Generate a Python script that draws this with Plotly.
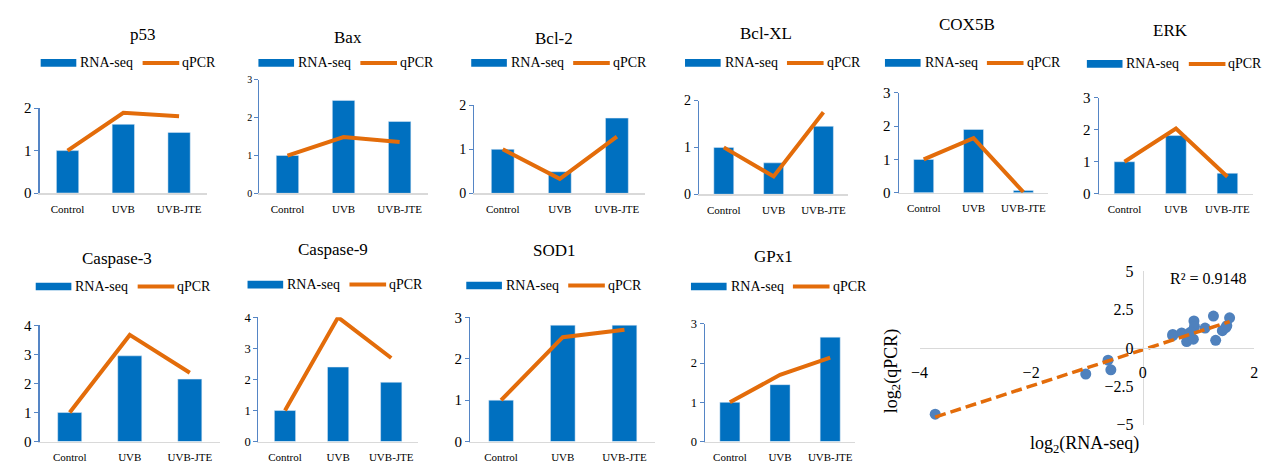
import numpy as np
import plotly.graph_objects as go

W, H = 1272, 467

# ---------------- data ----------------
categories = ["Control", "UVB", "UVB-JTE"]
genes = ["p53", "Bax", "Bcl-2", "Bcl-XL", "COX5B", "ERK",
         "Caspase-3", "Caspase-9", "SOD1", "GPx1"]

p53_rna = [1.00, 1.62, 1.43]
p53_qpcr = [1.00, 1.89, 1.81]
bax_rna = [1.00, 2.46, 1.90]
bax_qpcr = [1.00, 1.49, 1.36]
bcl2_rna = [1.00, 0.49, 1.71]
bcl2_qpcr = [1.00, 0.33, 1.29]
bclxl_rna = [1.00, 0.67, 1.45]
bclxl_qpcr = [1.00, 0.38, 1.75]
cox5b_rna = [1.00, 1.90, 0.07]
cox5b_qpcr = [1.00, 1.64, 0.02]
erk_rna = [1.00, 1.82, 0.64]
erk_qpcr = [1.00, 2.04, 0.53]
casp3_rna = [1.00, 2.95, 2.15]
casp3_qpcr = [1.00, 3.67, 2.37]
casp9_rna = [1.00, 2.40, 1.91]
casp9_qpcr = [1.00, 4.00, 2.69]
sod1_rna = [1.00, 2.81, 2.81]
sod1_qpcr = [1.00, 2.52, 2.70]
gpx1_rna = [1.00, 1.45, 2.66]
gpx1_qpcr = [1.00, 1.70, 2.14]

y_max = [2, 3, 2, 2, 3, 3, 4, 4, 3, 3]

log2_rna = [-3.72, -1.02, -0.62, -0.57, 0.54, 0.70, 0.79, 0.85, 0.91, 0.92,
            0.93, 1.12, 1.27, 1.31, 1.43, 1.51, 1.56, 0.54, 0.86, 1.49]
log2_qpcr = [-4.32, -1.70, -0.80, -1.43, 0.88, 0.98, 0.42, 0.99, 0.57, 1.76,
             1.40, 1.30, 2.08, 0.50, 1.13, 1.45, 1.97, 0.80, 1.03, 1.33]
r2_label = "R² = 0.9148"

rna_list = [p53_rna, bax_rna, bcl2_rna, bclxl_rna, cox5b_rna, erk_rna,
            casp3_rna, casp9_rna, sod1_rna, gpx1_rna]
qpcr_list = [p53_qpcr, bax_qpcr, bcl2_qpcr, bclxl_qpcr, cox5b_qpcr, erk_qpcr,
             casp3_qpcr, casp9_qpcr, sod1_qpcr, gpx1_qpcr]

# ---------------- layout geometry (pixels) ----------------
# x0, x1 (axis span), y_top, y_bot (value range span), title (x,y), legend (x,y), ytick font
geom = [
    (31, 200, 104, 192, 135, 28, 32, 57, 15),
    (253, 423, 74.7, 192.3, 343, 31, 252, 57, 10),
    (470, 643, 101, 192.3, 551, 32, 467, 57, 14),
    (697, 848, 96, 193.3, 765, 26, 683, 57, 14),
    (899, 1050, 88, 191.7, 968, 17, 885, 57, 15),
    (1101, 1257, 93.3, 192.7, 1173, 23, 1089, 58, 15),
    (31, 213, 329.3, 450, 109, 260, 27, 289, 15),
    (252, 413, 321, 450, 327, 251, 241, 287, 12.5),
    (466, 653, 321, 450, 551, 252, 462, 288, 15),
    (703, 855, 327.7, 450, 772, 258, 689, 289, 12.5),
]

BLUE = "#0070C0"
ORANGE = "#E36C0A"
AXBLUE = "#5585C5"
GRID = "#D9D9D9"
SERIF = "Liberation Serif"


def px(x):
    return x / W


def py(y):
    return 1 - y / H


fig = go.Figure()
layout = dict(
    width=W, height=H, margin=dict(l=0, r=0, t=0, b=0, pad=0),
    paper_bgcolor="white", plot_bgcolor="white", showlegend=False,
    bargap=0.6, font=dict(family=SERIF, color="black"),
)
annotations = []
shapes = []

for i, g in enumerate(genes):
    n = i + 1
    sx = "" if n == 1 else str(n)
    x0, x1, yt, yb, tx, ty, lx, ly, tfs = geom[i]
    fig.add_trace(go.Bar(x=categories, y=rna_list[i], marker_color=BLUE,
                         xaxis="x" + sx, yaxis="y" + sx, name="RNA-seq"))
    fig.add_trace(go.Scatter(x=categories, y=qpcr_list[i], mode="lines",
                             line=dict(color=ORANGE, width=4),
                             cliponaxis=False,
                             xaxis="x" + sx, yaxis="y" + sx, name="qPCR"))
    layout["xaxis" + sx] = dict(
        domain=[px(x0), px(x1)], anchor="y" + sx, type="category",
        range=[-0.5, 2.5], showline=True, linecolor=GRID, linewidth=1.5,
        ticks="outside", ticklen=5, tickcolor="rgba(0,0,0,0)",
        showgrid=False, zeroline=False,
        tickfont=dict(family=SERIF, size=11, color="black"), fixedrange=True,
    )
    layout["yaxis" + sx] = dict(
        domain=[py(yb), py(yt)], anchor="x" + sx, range=[0, y_max[i]],
        tickmode="linear", tick0=0, dtick=1,
        showline=True, linecolor=AXBLUE, linewidth=1.2,
        ticks="outside", ticklen=4, tickcolor=AXBLUE,
        showgrid=False, zeroline=False,
        tickfont=dict(family=SERIF, size=tfs, color="black"), fixedrange=True,
    )
    annotations.append(dict(x=px(tx), y=py(ty), xref="paper", yref="paper",
                            text=g, showarrow=False, xanchor="center",
                            yanchor="middle",
                            font=dict(family=SERIF, size=17, color="black")))
    # legend
    shapes.append(dict(type="rect", xref="paper", yref="paper",
                       x0=px(lx), x1=px(lx + 36), y0=py(ly + 4), y1=py(ly - 4),
                       fillcolor=BLUE, line=dict(width=0)))
    annotations.append(dict(x=px(lx + 38), y=py(ly), xref="paper", yref="paper",
                            text="RNA-seq", showarrow=False, xanchor="left",
                            yanchor="middle",
                            font=dict(family=SERIF, size=14, color="black")))
    shapes.append(dict(type="line", xref="paper", yref="paper",
                       x0=px(lx + 103), x1=px(lx + 140), y0=py(ly), y1=py(ly),
                       line=dict(color=ORANGE, width=4)))
    annotations.append(dict(x=px(lx + 141), y=py(ly), xref="paper", yref="paper",
                            text="qPCR", showarrow=False, xanchor="left",
                            yanchor="middle",
                            font=dict(family=SERIF, size=14, color="black")))

# ---------------- scatter panel ----------------
sx0, sx1 = 920, 1258
sy_top, sy_bot = 273.3, 432.3
x_rng = [-4, 2]
y_rng = [-5, 5]
ydom = [py(sy_bot), py(sy_top)]
xdom = [px(sx0), px(sx1)]
x_zero_pos = ydom[0] + (0 - y_rng[0]) / (y_rng[1] - y_rng[0]) * (ydom[1] - ydom[0])
y_zero_pos = xdom[0] + (0 - x_rng[0]) / (x_rng[1] - x_rng[0]) * (xdom[1] - xdom[0])

fig.add_trace(go.Scatter(x=log2_rna, y=log2_qpcr, mode="markers",
                         marker=dict(color="#4F81BD", size=11),
                         xaxis="x11", yaxis="y11", cliponaxis=False))
coef = np.polyfit(log2_rna, log2_qpcr, 1)
tx_line = np.array([min(log2_rna), max(log2_rna)])
fig.add_trace(go.Scatter(x=tx_line, y=np.polyval(coef, tx_line), mode="lines",
                         line=dict(color=ORANGE, width=3.5, dash="11px,5px"),
                         xaxis="x11", yaxis="y11", cliponaxis=False))
layout["xaxis11"] = dict(
    domain=xdom, anchor="free", position=x_zero_pos, range=x_rng,
    tickvals=[-4, -2, 0, 2], showline=True, linecolor=GRID, linewidth=1.5,
    ticks="outside", ticklen=9, tickcolor="rgba(0,0,0,0)",
    showgrid=False, zeroline=False,
    tickfont=dict(family=SERIF, size=16, color="black"), fixedrange=True,
)
layout["yaxis11"] = dict(
    domain=ydom, anchor="free", position=y_zero_pos, range=y_rng,
    tickvals=[-5, -2.5, 0, 2.5, 5], showline=True, linecolor=GRID, linewidth=1.5,
    ticks="outside", ticklen=6, tickcolor="rgba(0,0,0,0)",
    showgrid=False, zeroline=False,
    tickfont=dict(family=SERIF, size=16, color="black"), fixedrange=True,
)
annotations.append(dict(x=px(1212), y=py(281), xref="paper", yref="paper",
                        text=r2_label, showarrow=False, xanchor="center",
                        yanchor="middle",
                        font=dict(family=SERIF, size=16, color="black")))
annotations.append(dict(x=px(1087), y=py(453), xref="paper", yref="paper",
                        text="log<sub>2</sub>(RNA-seq)", showarrow=False,
                        xanchor="center", yanchor="middle", borderpad=0,
                        font=dict(family=SERIF, size=18, color="black")))
annotations.append(dict(x=px(892), y=py(377), xref="paper", yref="paper",
                        text="log<sub>2</sub>(qPCR)", showarrow=False,
                        textangle=-90, xanchor="center", yanchor="middle",
                        font=dict(family=SERIF, size=18, color="black")))

layout["annotations"] = annotations
layout["shapes"] = shapes
fig.update_layout(**layout)
fig.write_html(
    "out.html",
    config={"displayModeBar": False, "staticPlot": True},
    post_script="document.body.style.margin='0px';"
                "document.body.style.overflow='hidden';",
)
